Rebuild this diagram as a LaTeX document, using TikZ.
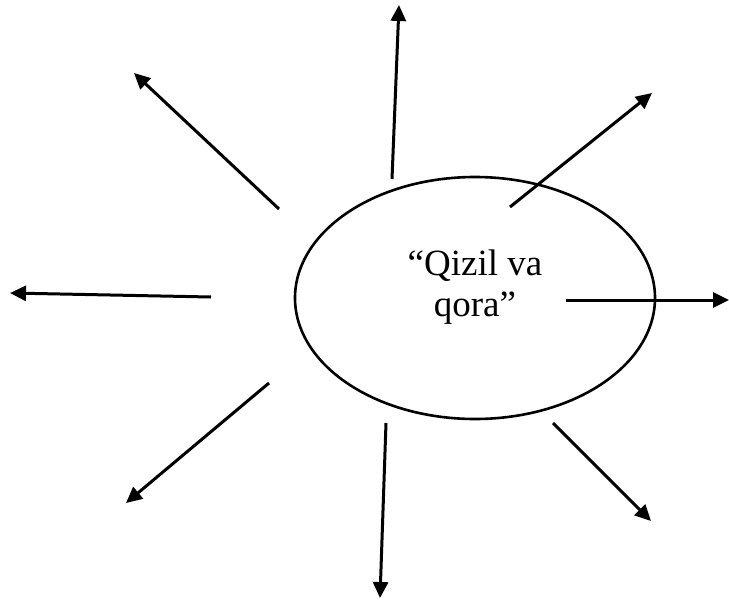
\documentclass[tikz,border=0pt]{standalone}
\usepackage{fontspec}
\setmainfont{Liberation Serif}
\usetikzlibrary{arrows.meta,shapes.geometric}
\begin{document}
\begin{tikzpicture}[x=1pt,y=-1pt,
  ray/.style={line width=3pt,-{Triangle[length=16pt,width=15pt]}},
  oval/.style={ellipse,draw,line width=2.6pt,minimum width=360pt,minimum height=242pt,inner sep=0pt},
  label/.style={font=\fontsize{37}{41}\selectfont,anchor=base,inner sep=0pt}]
\useasboundingbox (0,0) rectangle (729,600);
\node[oval] (e) at (475,298) {};
\node[label] (t1) at (475,275) {“Qizil va};
\node[label] (t2) at (475,316) {qora”};
% ray ends
\coordinate (a1) at (392,179); \coordinate (b1) at (399,5);
\coordinate (a2) at (510,207); \coordinate (b2) at (652,93);
\coordinate (a3) at (566,300); \coordinate (b3) at (729,300);
\coordinate (a4) at (553,423); \coordinate (b4) at (651,521);
\coordinate (a5) at (386,423); \coordinate (b5) at (380,598);
\coordinate (a6) at (269,383); \coordinate (b6) at (126,503);
\coordinate (a7) at (211,297); \coordinate (b7) at (10,293);
\coordinate (a8) at (279,209); \coordinate (b8) at (134,73);
\foreach \i in {1,...,8} {\draw[ray] (a\i) -- (b\i);}
\end{tikzpicture}
\end{document}
